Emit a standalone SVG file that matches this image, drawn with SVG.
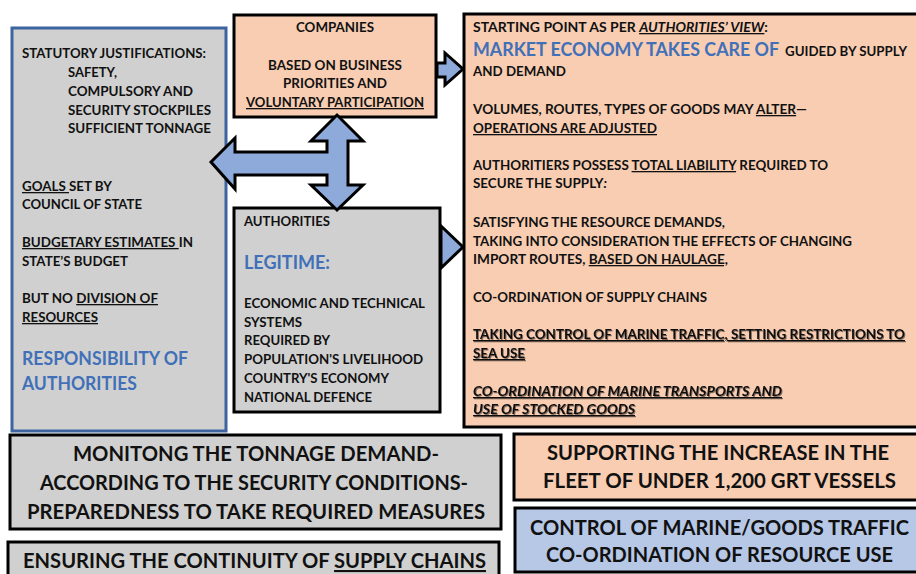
<svg xmlns="http://www.w3.org/2000/svg" width="916" height="574" viewBox="0 0 916 574">
<defs>
<style>
text{font-family:Lato,"Open Sans","Liberation Sans",sans-serif;font-weight:700;fill:#111}
.s{font-size:13px}
.h{font-size:18.5px;fill:#4170b8}
.b{font-size:21px}
.u{text-decoration:underline}
.i{font-style:italic}
.box{stroke:#000;stroke-width:3}
.peach{fill:#f8cdb2}
.gray{fill:#d0d0d0}
.lblue{fill:#b6c8e6}
.arrow{fill:#8eaadb;stroke:#000;stroke-width:3;stroke-linejoin:miter}
</style>
<filter id="sh" x="-5%" y="-30%" width="110%" height="160%">
<feDropShadow dx="1" dy="1" stdDeviation="0.6" flood-color="#000" flood-opacity="0.45"/>
</filter>
</defs>
<rect width="916" height="574" fill="#fff"/>

<g id="left-box">
<rect x="12" y="28" width="214" height="403" class="gray" stroke="#3c64a0" stroke-width="3"/>
<text class="s" x="22" y="58" textLength="184" lengthAdjust="spacingAndGlyphs">STATUTORY JUSTIFICATIONS:</text>
<text class="s" x="68" y="77" textLength="49" lengthAdjust="spacingAndGlyphs">SAFETY,</text>
<text class="s" x="68" y="96" textLength="125" lengthAdjust="spacingAndGlyphs">COMPULSORY AND</text>
<text class="s" x="68" y="115" textLength="143" lengthAdjust="spacingAndGlyphs">SECURITY STOCKPILES</text>
<text class="s" x="68" y="133" textLength="143" lengthAdjust="spacingAndGlyphs">SUFFICIENT TONNAGE</text>
<text class="s" x="22" y="191" textLength="90" lengthAdjust="spacingAndGlyphs"><tspan class="u">GOALS </tspan>SET BY</text>
<text class="s" x="22" y="209" textLength="120" lengthAdjust="spacingAndGlyphs">COUNCIL OF STATE</text>
<text class="s" x="22" y="247" textLength="171" lengthAdjust="spacingAndGlyphs"><tspan class="u">BUDGETARY ESTIMATES </tspan>IN</text>
<text class="s" x="22" y="266" textLength="106" lengthAdjust="spacingAndGlyphs">STATE’S BUDGET</text>
<text class="s" x="22" y="303" textLength="136" lengthAdjust="spacingAndGlyphs">BUT NO <tspan class="u">DIVISION OF</tspan></text>
<text class="s u" x="22" y="322" textLength="76" lengthAdjust="spacingAndGlyphs">RESOURCES</text>
<text class="h" x="22" y="365" textLength="166" lengthAdjust="spacingAndGlyphs">RESPONSIBILITY OF</text>
<text class="h" x="22" y="390" textLength="115" lengthAdjust="spacingAndGlyphs">AUTHORITIES</text>
</g>

<g id="companies">
<rect x="234" y="15" width="202" height="102" class="box peach"/>
<text class="s" x="296" y="32" textLength="78" lengthAdjust="spacingAndGlyphs">COMPANIES</text>
<text class="s" x="268" y="70" textLength="134" lengthAdjust="spacingAndGlyphs">BASED ON BUSINESS</text>
<text class="s" x="283" y="88" textLength="104" lengthAdjust="spacingAndGlyphs">PRIORITIES AND</text>
<text class="s u" x="246" y="107" textLength="178" lengthAdjust="spacingAndGlyphs">VOLUNTARY PARTICIPATION</text>
</g>

<g id="authorities">
<rect x="234" y="208" width="206" height="204" class="box gray"/>
<text class="s" x="244" y="226" textLength="86" lengthAdjust="spacingAndGlyphs">AUTHORITIES</text>
<text class="h" x="244" y="269" textLength="86" lengthAdjust="spacingAndGlyphs">LEGITIME:</text>
<text class="s" x="244" y="308" textLength="181" lengthAdjust="spacingAndGlyphs">ECONOMIC AND TECHNICAL</text>
<text class="s" x="244" y="327" textLength="58" lengthAdjust="spacingAndGlyphs">SYSTEMS</text>
<text class="s" x="244" y="345" textLength="86" lengthAdjust="spacingAndGlyphs">REQUIRED BY</text>
<text class="s" x="244" y="364" textLength="179" lengthAdjust="spacingAndGlyphs">POPULATION'S LIVELIHOOD</text>
<text class="s" x="244" y="383" textLength="145" lengthAdjust="spacingAndGlyphs">COUNTRY'S ECONOMY</text>
<text class="s" x="244" y="402" textLength="128" lengthAdjust="spacingAndGlyphs">NATIONAL DEFENCE</text>
</g>

<g id="market-economy">
<rect x="464" y="14" width="460" height="413" class="box peach"/>
<text class="s" x="473" y="32" textLength="295" lengthAdjust="spacingAndGlyphs">STARTING POINT AS PER <tspan class="u i">AUTHORITIES’ VIEW</tspan>:</text>
<text class="h" x="473" y="56" textLength="306" lengthAdjust="spacingAndGlyphs">MARKET ECONOMY TAKES CARE OF</text>
<text class="s" x="785" y="56" textLength="122" lengthAdjust="spacingAndGlyphs">GUIDED BY SUPPLY</text>
<text class="s" x="473" y="76" textLength="93" lengthAdjust="spacingAndGlyphs">AND DEMAND</text>
<text class="s" x="473" y="114" textLength="334" lengthAdjust="spacingAndGlyphs">VOLUMES, ROUTES, TYPES OF GOODS MAY <tspan class="u">ALTER</tspan>—</text>
<text class="s u" x="473" y="133" textLength="184" lengthAdjust="spacingAndGlyphs">OPERATIONS ARE ADJUSTED</text>
<text class="s" x="473" y="170" textLength="355" lengthAdjust="spacingAndGlyphs">AUTHORITIERS POSSESS <tspan class="u">TOTAL LIABILITY</tspan> REQUIRED TO</text>
<text class="s" x="473" y="188" textLength="134" lengthAdjust="spacingAndGlyphs">SECURE THE SUPPLY<tspan class="i">:</tspan></text>
<text class="s" x="473" y="227" textLength="252" lengthAdjust="spacingAndGlyphs">SATISFYING THE RESOURCE DEMANDS,</text>
<text class="s" x="473" y="246" textLength="379" lengthAdjust="spacingAndGlyphs">TAKING INTO CONSIDERATION THE EFFECTS OF CHANGING</text>
<text class="s" x="473" y="264" textLength="255" lengthAdjust="spacingAndGlyphs">IMPORT ROUTES, <tspan class="u">BASED ON HAULAGE,</tspan></text>
<text class="s" x="473" y="302" textLength="234" lengthAdjust="spacingAndGlyphs">CO-ORDINATION OF SUPPLY CHAINS</text>
<text class="s u" x="473" y="339" textLength="432" lengthAdjust="spacingAndGlyphs" filter="url(#sh)">TAKING CONTROL OF MARINE TRAFFIC, SETTING RESTRICTIONS TO</text>
<text class="s u" x="473" y="358" textLength="52" lengthAdjust="spacingAndGlyphs" filter="url(#sh)">SEA USE</text>
<text class="s u i" x="473" y="396" textLength="309" lengthAdjust="spacingAndGlyphs" filter="url(#sh)">CO-ORDINATION OF MARINE TRANSPORTS AND</text>
<text class="s u i" x="473" y="414" textLength="162" lengthAdjust="spacingAndGlyphs" filter="url(#sh)">USE OF STOCKED GOODS</text>
</g>

<g id="monitoring">
<rect x="10" y="435" width="491" height="94" class="box gray"/>
<text class="b" x="73" y="461" textLength="366" lengthAdjust="spacingAndGlyphs">MONITONG THE TONNAGE DEMAND-</text>
<text class="b" x="40" y="490" textLength="428" lengthAdjust="spacingAndGlyphs">ACCORDING TO THE SECURITY CONDITIONS-</text>
<text class="b" x="27" y="519" textLength="458" lengthAdjust="spacingAndGlyphs">PREPAREDNESS TO TAKE REQUIRED MEASURES</text>
</g>

<g id="continuity">
<rect x="8" y="542" width="491" height="40" class="box gray"/>
<text class="b" x="23" y="568" textLength="463" lengthAdjust="spacingAndGlyphs">ENSURING THE CONTINUITY OF <tspan class="u">SUPPLY CHAINS</tspan></text>
</g>

<g id="fleet">
<rect x="514" y="434" width="410" height="66" class="box peach"/>
<text class="b" x="547" y="460" textLength="342" lengthAdjust="spacingAndGlyphs">SUPPORTING THE INCREASE IN THE</text>
<text class="b" x="543" y="488" textLength="353" lengthAdjust="spacingAndGlyphs">FLEET OF UNDER 1,200 GRT VESSELS</text>
</g>

<g id="control">
<rect x="515" y="508" width="410" height="64" class="box lblue"/>
<text class="b" x="530" y="535" textLength="379" lengthAdjust="spacingAndGlyphs">CONTROL OF MARINE/GOODS TRAFFIC</text>
<text class="b" x="546" y="562" textLength="347" lengthAdjust="spacingAndGlyphs">CO-ORDINATION OF RESOURCE USE</text>
</g>

<g id="connectors">
<polygon class="arrow" points="211,162 235,138 235,152 327,152 327,141 311,141 337,115 363,141 348,141 348,185 363,185 337,210 311,185 327,185 327,175 235,175 235,189"/>
<polygon class="arrow" points="437,63 445,63 445,53 463,69 445,85 445,77 437,77"/>
<polygon class="arrow" points="441,226 463,247 441,268"/>
</g>
</svg>
